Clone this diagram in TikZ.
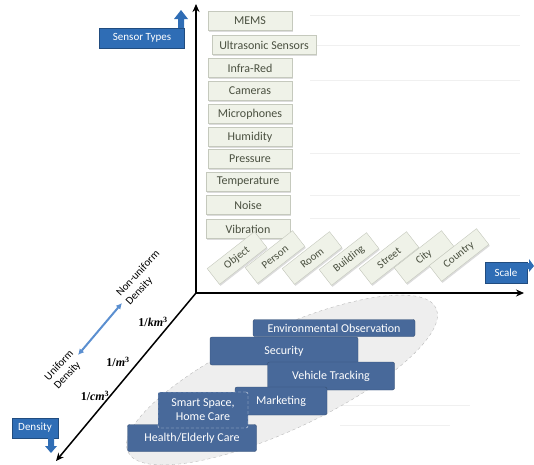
\documentclass[tikz,border=0pt]{standalone}
\usepackage{fontspec}
\setmainfont{Carlito}
\newfontfamily\serifx{Liberation Serif}
\usetikzlibrary{arrows.meta,shadows,shapes.geometric}
\definecolor{sensfill}{HTML}{EFF2E8}
\definecolor{sensdraw}{HTML}{C5C9BD}
\definecolor{senstext}{HTML}{4A5040}
\definecolor{callblue}{HTML}{2F6DB5}
\definecolor{appblue}{HTML}{48699A}
\definecolor{ellfill}{HTML}{EEEEEE}
\definecolor{dblblue}{HTML}{5B8FD0}
\newcommand{\densval}[1]{{\serifx\bfseries 1/\itshape #1\textsuperscript{\upshape 3}}}
\begin{document}
\begin{tikzpicture}[x=1pt,y=-1pt,
  sensorbox/.style={draw=sensdraw, fill=sensfill, text=senstext, minimum width=84pt,
    minimum height=19pt, inner sep=2pt, font=\fontsize{12}{13}\selectfont,
    drop shadow={shadow xshift=1pt,shadow yshift=-1.5pt,fill=gray!55}},
  scalebox/.style={sensorbox, minimum width=60pt, minimum height=20pt, rotate=38,
    font=\fontsize{11}{12}\selectfont},
  callout/.style={fill=callblue, text=white, draw=callblue!70!black,
    font=\fontsize{11}{12}\selectfont, minimum height=20pt, inner sep=2pt},
  app/.style={fill=appblue, text=white, draw=appblue!75!black, rounded corners=2pt,
    font=\fontsize{12}{14}\selectfont, inner sep=1pt},
  axis/.style={line width=1.5pt, -{Stealth[length=8pt,width=7pt]}},
  faint/.style={draw=gray!12, line width=0.8pt},
  densstyle/.style={font=\fontsize{12}{13}\selectfont},
  rotlab/.style={font=\fontsize{11}{13}\selectfont, align=left, rotate=47, inner sep=0pt}]
\useasboundingbox (0,0) rectangle (534,464);
% faint background lines
\foreach \yy in {15,45,80,153,195,218} {\draw[faint] (310,\yy) -- (520,\yy);}
\draw[faint] (340,405) -- (470,405);
\draw[faint] (340,425) -- (450,425);
% ellipse of applications
\node[ellipse, draw=gray!55, dashed, fill=ellfill, minimum width=340pt,
  minimum height=100pt, rotate=25] (ell) at (282,380) {};
% axes
\coordinate (O) at (196,293);
\coordinate (ytop) at (196,4);
\coordinate (xend) at (524,293);
\coordinate (zend) at (56,461);
\draw[axis] (O) -- (ytop);
\draw[axis] (O) -- (xend);
\draw[axis] (O) -- (zend);
% sensor types
\node[sensorbox] (mems) at (250,21) {MEMS};
\node[sensorbox, minimum width=104pt] (ultra) at (264,45) {Ultrasonic Sensors};
\node[sensorbox] (ir) at (250,68) {Infra-Red};
\node[sensorbox] (cam) at (250,91) {Cameras};
\node[sensorbox] (mic) at (250,114) {Microphones};
\node[sensorbox] (hum) at (250,137) {Humidity};
\node[sensorbox] (pres) at (250,159) {Pressure};
\node[sensorbox] (temp) at (248,182) {Temperature};
\node[sensorbox] (noise) at (248,205) {Noise};
\node[sensorbox] (vib) at (248,229) {Vibration};
% scale labels
\node[scalebox] (object) at (237,258) {Object};
\node[scalebox] (person) at (275,257) {Person};
\node[scalebox] (room) at (312,258) {Room};
\node[scalebox] (building) at (349,259) {Building};
\node[scalebox] (street) at (389,258) {Street};
\node[scalebox] (city) at (424,257) {City};
\node[scalebox] (country) at (459,255) {Country};
% callouts
\node[callout, minimum width=85pt] (stypes) at (142,38) {Sensor Types};
\fill[callblue] (178,28) -- (178,19) -- (174,19) -- (181,10) -- (188,19) -- (184,19) -- (184,28) -- cycle;
\node[callout, minimum width=42pt, minimum height=21pt] (scale) at (506,273) {Scale};
\fill[callblue] (527,263) -- (529,263) -- (529,259) -- (534,266) -- (529,272) -- (529,269) -- (527,269) -- cycle;
\node[callout, minimum width=46pt] (density) at (35,428) {Density};
\fill[callblue] (48,438) -- (48,446) -- (45,446) -- (51,453) -- (57,446) -- (54,446) -- (54,438) -- cycle;
% density values
\node[densstyle] (vkm) at (153,322) {\densval{km}};
\node[densstyle] (vm) at (118,362) {\densval{m}};
\node[densstyle] (vcm) at (95,396) {\densval{cm}};
% uniform / non-uniform
\coordinate (uni) at (78,355);
\coordinate (nonuni) at (122,303);
\draw[dblblue, line width=2pt, {Latex[length=6pt,width=6pt]}-{Latex[length=6pt,width=6pt]}] (uni) -- (nonuni);
\node[rotlab] (nonlab) at (143,278) {Non-uniform\\Density};
\node[rotlab] (unilab) at (64,370) {Uniform\\Density};
% applications
\node[app, minimum width=148pt, minimum height=28pt] (sec) at (284,351) {Security};
\node[app, minimum width=162pt, minimum height=17pt] (env) at (334,328) {Environmental Observation};
\node[app, minimum width=127pt, minimum height=28pt] (veh) at (331,376) {Vehicle Tracking};
\node[app, minimum width=92pt, minimum height=28pt] (mark) at (281,401) {Marketing};
\node[app, minimum width=129pt, minimum height=27pt] (health) at (192,438) {Health/Elderly Care};
\node[app, minimum width=90pt, minimum height=36pt, align=center, draw=white!80!appblue, densely dashed] (smart) at (203,410) {Smart Space,\\Home Care};
\end{tikzpicture}
\end{document}
